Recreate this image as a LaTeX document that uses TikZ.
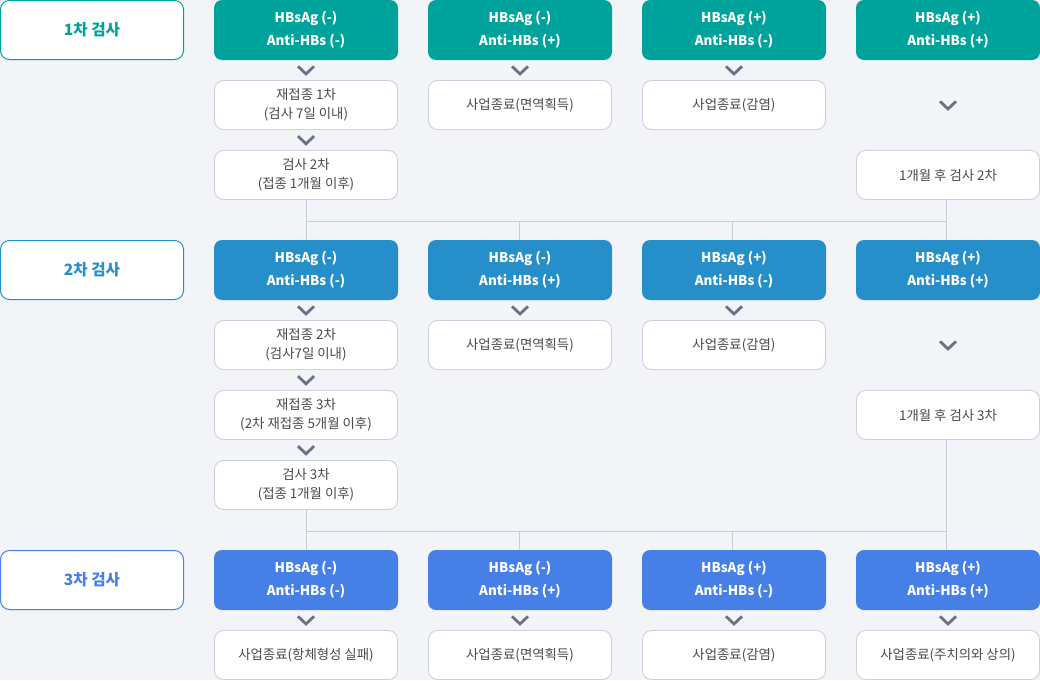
\documentclass[tikz,border=0pt]{standalone}
\usepackage{fontspec}
\setmainfont{Noto Sans CJK KR}
\usetikzlibrary{calc}
\definecolor{bg}{HTML}{F3F4F8}
\definecolor{cA}{HTML}{00A39B}
\definecolor{cB}{HTML}{268FCA}
\definecolor{cC}{HTML}{4680E6}
\definecolor{boxline}{HTML}{CDD0DE}
\definecolor{txt}{HTML}{4A4A4A}
\definecolor{chevc}{HTML}{6C6F88}
\definecolor{connc}{HTML}{C9CBD9}
\tikzset{
  hd/.style={rounded corners=8pt, minimum width=184pt, minimum height=60pt, inner sep=0pt,
    text=white, font=\bfseries\fontsize{13.4}{23}\selectfont, align=center},
  wb/.style={draw=boxline, fill=white, rounded corners=9pt, minimum width=183pt, minimum height=49pt,
    inner sep=0pt, font=\fontsize{13.4}{19}\selectfont, text=txt, align=center, line width=0.9pt},
  stage/.style={draw=#1, fill=white, text=#1, rounded corners=9pt, minimum width=183pt, minimum height=59pt,
    inner sep=0pt, font=\bfseries\fontsize{15.6}{18}\selectfont, line width=1pt},
  conn/.style={draw=connc, line width=1pt},
  chev/.pic={\draw[chevc, line width=2.8pt, line join=miter] (-8,3.8) -- (0,-3.8) -- (8,3.8);}
}
\begin{document}
\begin{tikzpicture}[x=1pt,y=1pt]
\useasboundingbox (0,0) rectangle (1040,-680);
\fill[bg] (0,0) rectangle (1040,-680);

% stage labels
\node[stage=cA] (s1) at (92,-30) {1차 검사};
\node[stage=cB] (s2) at (92,-270) {2차 검사};
\node[stage=cC] (s3) at (92,-580) {3차 검사};

% row 1 headers
\node[hd, fill=cA] (h11) at (306,-30) {HBsAg (-)\\Anti-HBs (-)};
\node[hd, fill=cA] (h12) at (520,-30) {HBsAg (-)\\Anti-HBs (+)};
\node[hd, fill=cA] (h13) at (734,-30) {HBsAg (+)\\Anti-HBs (-)};
\node[hd, fill=cA] (h14) at (948,-30) {HBsAg (+)\\Anti-HBs (+)};
% row 1 boxes
\node[wb] (a11) at (306,-105) {재접종 1차\\(검사 7일 이내)};
\node[wb] (a12) at (306,-175) {검사 2차\\(접종 1개월 이후)};
\node[wb] (a21) at (520,-105) {사업종료(면역획득)};
\node[wb] (a31) at (734,-105) {사업종료(감염)};
\node[wb] (a41) at (948,-175) {1개월 후 검사 2차};

% row 2 headers
\node[hd, fill=cB] (h21) at (306,-270) {HBsAg (-)\\Anti-HBs (-)};
\node[hd, fill=cB] (h22) at (520,-270) {HBsAg (-)\\Anti-HBs (+)};
\node[hd, fill=cB] (h23) at (734,-270) {HBsAg (+)\\Anti-HBs (-)};
\node[hd, fill=cB] (h24) at (948,-270) {HBsAg (+)\\Anti-HBs (+)};
% row 2 boxes
\node[wb] (b11) at (306,-345) {재접종 2차\\(검사7일 이내)};
\node[wb] (b12) at (306,-415) {재접종 3차\\(2차 재접종 5개월 이후)};
\node[wb] (b13) at (306,-485) {검사 3차\\(접종 1개월 이후)};
\node[wb] (b21) at (520,-345) {사업종료(면역획득)};
\node[wb] (b31) at (734,-345) {사업종료(감염)};
\node[wb] (b41) at (948,-415) {1개월 후 검사 3차};

% row 3 headers
\node[hd, fill=cC] (h31) at (306,-580) {HBsAg (-)\\Anti-HBs (-)};
\node[hd, fill=cC] (h32) at (520,-580) {HBsAg (-)\\Anti-HBs (+)};
\node[hd, fill=cC] (h33) at (734,-580) {HBsAg (+)\\Anti-HBs (-)};
\node[hd, fill=cC] (h34) at (948,-580) {HBsAg (+)\\Anti-HBs (+)};
% row 3 boxes
\node[wb] (c11) at (306,-655) {사업종료(항체형성 실패)};
\node[wb] (c21) at (520,-655) {사업종료(면역획득)};
\node[wb] (c31) at (734,-655) {사업종료(감염)};
\node[wb] (c41) at (948,-655) {사업종료(주치의와 상의)};

% chevrons
\pic at ($(h11.south)!0.5!(a11.north)$) {chev};
\pic at ($(a11.south)!0.5!(a12.north)$) {chev};
\pic at ($(h12.south)!0.5!(a21.north)$) {chev};
\pic at ($(h13.south)!0.5!(a31.north)$) {chev};
\pic at ($(h14.south)!0.5!(a41.north)$) {chev};
\pic at ($(h21.south)!0.5!(b11.north)$) {chev};
\pic at ($(b11.south)!0.5!(b12.north)$) {chev};
\pic at ($(b12.south)!0.5!(b13.north)$) {chev};
\pic at ($(h22.south)!0.5!(b21.north)$) {chev};
\pic at ($(h23.south)!0.5!(b31.north)$) {chev};
\pic at ($(h24.south)!0.5!(b41.north)$) {chev};
\pic at ($(h31.south)!0.5!(c11.north)$) {chev};
\pic at ($(h32.south)!0.5!(c21.north)$) {chev};
\pic at ($(h33.south)!0.5!(c31.north)$) {chev};
\pic at ($(h34.south)!0.5!(c41.north)$) {chev};

% connectors 1 -> 2
\coordinate (m1) at (0,-221);
\draw[conn] (a12.south) -- (h21.north);
\draw[conn] (a12.south |- m1) -- ([xshift=-2pt]a41.south |- m1);
\draw[conn] ([xshift=-2pt]a41.south) -- ([xshift=-2pt]h24.north);
\draw[conn] ([xshift=-1pt]h22.north) -- ([xshift=-1pt]h22.north |- m1);
\draw[conn] ([xshift=-2pt]h23.north) -- ([xshift=-2pt]h23.north |- m1);

% connectors 2 -> 3
\coordinate (m2) at (0,-531);
\draw[conn] (b13.south) -- (h31.north);
\draw[conn] (b13.south |- m2) -- ([xshift=-2pt]b41.south |- m2);
\draw[conn] ([xshift=-2pt]b41.south) -- ([xshift=-2pt]h34.north);
\draw[conn] ([xshift=-1pt]h32.north) -- ([xshift=-1pt]h32.north |- m2);
\draw[conn] ([xshift=-2pt]h33.north) -- ([xshift=-2pt]h33.north |- m2);
\end{tikzpicture}
\end{document}
